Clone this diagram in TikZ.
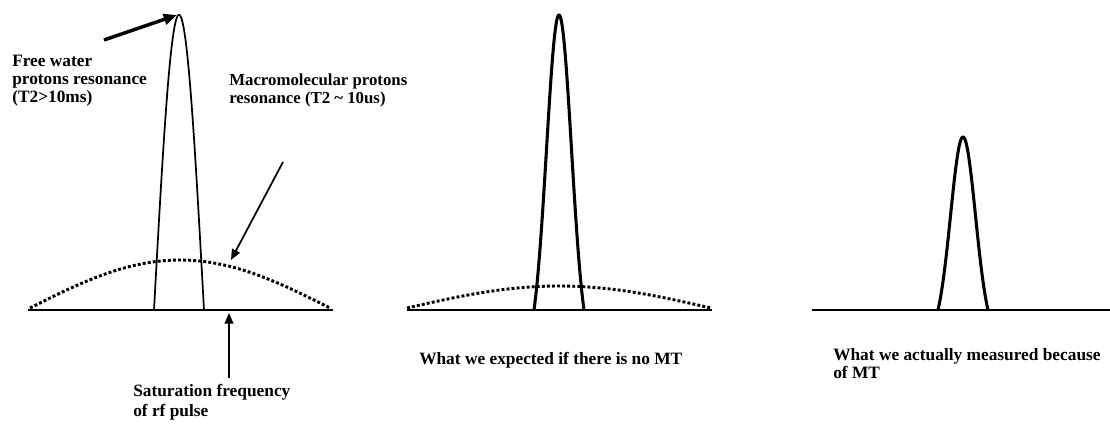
\documentclass[tikz,border=0pt]{standalone}
\usepackage{fontspec}
\setmainfont{Liberation Serif}
\usetikzlibrary{arrows.meta}

\tikzset{
  axisline/.style={line width=2pt},
  peakline/.style={line width=#1, line join=round},
  dotcurve/.style={line width=2.2pt, dash pattern=on 2.2pt off 1.6pt},
  callout/.style={line width=#1, -{Triangle[length=8pt,width=6.5pt]}},
  lbl/.style={anchor=base west, inner sep=0pt, align=left,
    font=\fontsize{13}{13.5}\selectfont\bfseries},
}

\begin{document}
\begin{tikzpicture}[x=0.75pt, y=-0.75pt]
  %% one pixel of the 1110x424 frame = 0.75pt, y runs downwards
  \useasboundingbox (0,0) rectangle (1110,424);

  \def\base{310}

  %% frequency axes of the three panels
  \foreach \xa/\xb in {28/333, 407/712, 812/1110} {
    \draw[axisline] (\xa,\base) -- (\xb,\base);
  }

  %% broad macromolecular line (dotted), only in the first two panels
  \foreach \cx/\hw/\hh in {180/150/48, 559/152/22} {
    \draw[dotcurve] plot[domain=-1:1, samples=61]
      ({\cx+\hw*(\x)}, {\base-2-\hh*cos(90*(\x))});
  }

  %% narrow free water line: centre, height, gaussian width, pen
  \foreach \cx/\hh/\sg/\pen in {179/295/1/1.3pt, 559/295/0.5/2.3pt, 963/173/0.5/2.3pt} {
    \pgfmathsetmacro{\gw}{exp(-1/(2*\sg*\sg))}
    \draw[peakline=\pen] plot[domain=-1:1, samples=81]
      ({\cx+25*(\x)}, {\base-\hh*(exp(-(\x)*(\x)/(2*\sg*\sg))-\gw)/(1-\gw)});
  }

  %% callout arrows
  \coordinate (fwtail) at (104,40);
  \coordinate (fwtip) at (177,15);
  \coordinate (mmtail) at (283,162);
  \coordinate (mmtip) at (231,260);
  \coordinate (sattail) at (229,378);
  \coordinate (sattip) at (229,313);
  \draw[callout=2.6pt, -{Triangle[length=10pt,width=8pt]}] (fwtail) -- (fwtip);
  \draw[callout=1.3pt] (mmtail) -- (mmtip);
  \draw[callout=1.3pt] (sattail) -- (sattip);

  %% labels (base = baseline of the last line)
  \node[lbl] (fwlabel) at (12,103) {Free water\\protons resonance\\(T2>10ms)};
  \node[lbl, font=\fontsize{12.6}{13.5}\selectfont\bfseries] (mmlabel) at (229,104)
    {Macromolecular protons\\resonance (T2 \textasciitilde{} 10us)};
  \node[lbl] (satlabel) at (133,416) {Saturation frequency\\[1.5pt]of rf pulse};
  \node[lbl] (explabel) at (419,364) {What we expected if there is no MT};
  \node[lbl] (measlabel) at (833,378) {What we actually measured because\\of MT};
\end{tikzpicture}
\end{document}
